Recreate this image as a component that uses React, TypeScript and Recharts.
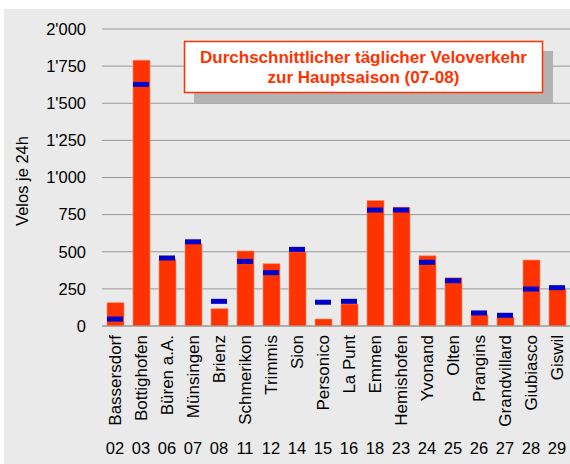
import { Bar, CartesianGrid, ComposedChart, Scatter, XAxis, YAxis } from "recharts";

const stations = [
  "Bassersdorf", "Bottighofen", "Büren a.A.", "Münsingen", "Brienz", "Schmerikon",
  "Trimmis", "Sion", "Personico", "La Punt", "Emmen", "Hemishofen",
  "Yvonand", "Olten", "Prangins", "Grandvillard", "Giubiasco", "Giswil",
];
const codes = ["02", "03", "06", "07", "08", "11", "12", "14", "15", "16", "18", "23", "24", "25", "26", "27", "28", "29"];
// Durchschnitt Hauptsaison (Balken)
const tagesmittel = [157, 1790, 450, 555, 117, 505, 420, 500, 47, 148, 845, 800, 473, 325, 76, 60, 444, 254];
// Vergleichswert (blaue Marke)
const vergleich = [47, 1627, 458, 567, 166, 435, 359, 516, 160, 166, 781, 781, 429, 305, 88, 72, 249, 258];
const yTicks = [0, 250, 500, 750, 1000, 1250, 1500, 1750, 2000];

const data = stations.map((name, i) => ({
  name,
  code: codes[i],
  mittel: tagesmittel[i],
  vergleich: vergleich[i],
}));

const FONT = "'Liberation Sans', Arial, sans-serif";
const RED = "#ff3300";

function fmt(v: number): string {
  if (v >= 1000) return `${Math.floor(v / 1000)}'${String(v % 1000).padStart(3, "0")}`;
  return String(v);
}

function StationTick({ x, y, payload, index }: any) {
  const code = codes[payload?.index ?? index];
  const ty = y + 9;
  return (
    <g fontFamily={FONT} fill="#000">
      <text
        x={x}
        y={ty}
        dy="0.35em"
        textAnchor="end"
        fontSize={17}
        transform={`rotate(-90, ${x}, ${ty})`}
      >
        {payload.value}
      </text>
      <text x={x} y={y + 128} textAnchor="middle" fontSize={16.5}>
        {code}
      </text>
    </g>
  );
}

function Marker({ cx, cy }: any) {
  if (cx == null || cy == null) return null;
  return <rect x={cx - 8} y={cy - 2.5} width={16} height={5} fill="#0000cc" />;
}

export default function App() {
  return (
    <div style={{ position: "absolute", left: 0, top: 0, width: 570, height: 464, background: "#fff" }}>
      <div style={{ position: "absolute", left: 4, top: 9, width: 566, height: 455, background: "#eaeaea" }}>
        <ComposedChart width={566} height={455} data={data} margin={{ top: 20, right: 0, bottom: 0, left: 0 }}>
          <CartesianGrid vertical={false} stroke="#999" />
          <XAxis
            dataKey="name"
            interval={0}
            height={138}
            tickLine={false}
            tickSize={0}
            tickMargin={0}
            axisLine={{ stroke: "#999" }}
            tick={<StationTick />}
          />
          <YAxis
            width={98}
            domain={[0, 2000]}
            ticks={yTicks}
            tickFormatter={fmt}
            axisLine={false}
            tickLine={false}
            tickMargin={10}
            tick={{ fill: "#000", fontSize: 16.5, fontFamily: FONT }}
          />
          <Bar dataKey="mittel" barSize={17} fill={RED} stroke="#ff8a6a" strokeWidth={0.6} isAnimationActive={false} />
          <Scatter dataKey="vergleich" shape={<Marker />} isAnimationActive={false} />
        </ComposedChart>
      </div>
      <svg width={570} height={464} style={{ position: "absolute", left: 0, top: 0, pointerEvents: "none" }}>
        <text
          x={22}
          y={181}
          dy="0.35em"
          textAnchor="middle"
          fontSize={16.5}
          fontFamily={FONT}
          fill="#000"
          transform="rotate(-90, 22, 181)"
        >
          Velos je 24h
        </text>
        <rect x={194} y={51} width={359} height={52} fill="#b3b3b3" />
        <rect x={184.5} y={41.5} width={358} height={51} fill="#fff" stroke={RED} strokeWidth={1.5} />
        <text x={363.5} y={63} textAnchor="middle" fontSize={17} fontWeight="bold" fontFamily={FONT} fill={RED}>
          Durchschnittlicher täglicher Veloverkehr
        </text>
        <text x={363.5} y={82.5} textAnchor="middle" fontSize={17} fontWeight="bold" fontFamily={FONT} fill={RED}>
          zur Hauptsaison (07-08)
        </text>
      </svg>
    </div>
  );
}
